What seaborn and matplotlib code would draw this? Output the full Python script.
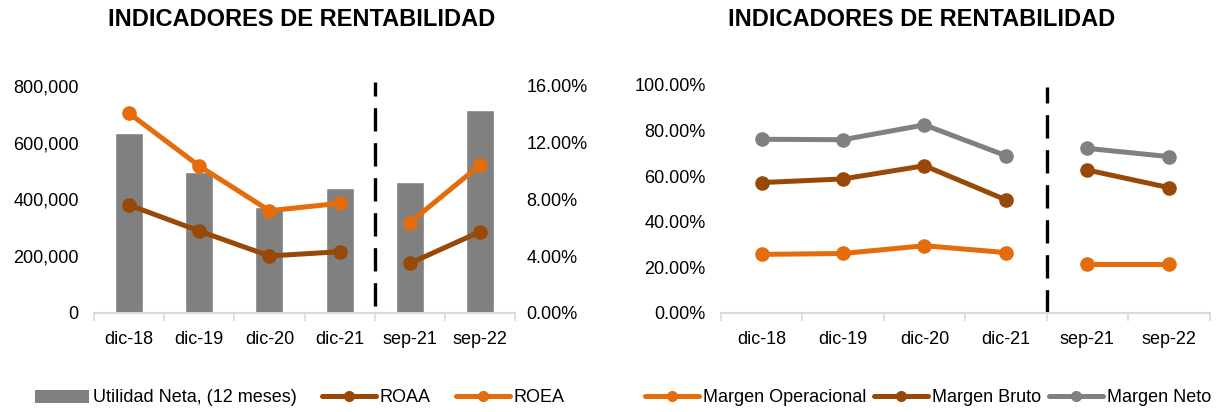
# indicadores_rentabilidad.py
# Dos paneles: utilidad neta + ROAA/ROEA, y margenes

import numpy as np
import pandas as pd
import matplotlib
matplotlib.use('Agg')
import matplotlib.pyplot as plt
from matplotlib.lines import Line2D
from matplotlib.patches import Patch
from matplotlib.ticker import FuncFormatter, FixedLocator
import seaborn as sns

# ── Datos ──────────────────────────────────────────────
periodos = ['dic-18', 'dic-19', 'dic-20', 'dic-21', 'sep-21', 'sep-22']
tramo = ['anual', 'anual', 'anual', 'anual', 'sep', 'sep']

utilidad_neta = [633000, 498000, 375000, 439000, 463000, 715000]
roaa = [0.0761, 0.0578, 0.0402, 0.0432, 0.0350, 0.0573]
roea = [0.1408, 0.1036, 0.0721, 0.0773, 0.0637, 0.1043]

margen_operacional = [0.257, 0.261, 0.295, 0.265, 0.215, 0.215]
margen_bruto = [0.572, 0.588, 0.646, 0.496, 0.627, 0.550]
margen_neto = [0.762, 0.760, 0.825, 0.690, 0.722, 0.686]

NARANJA = '#E46C0A'
CAFE = '#984807'
GRIS = '#808080'
EJE = '#D9D9D9'

sns.set_theme(style='white')
plt.rcParams['font.family'] = ['Liberation Sans', 'DejaVu Sans']
plt.rcParams['text.color'] = 'black'
plt.rcParams['xtick.color'] = 'black'
plt.rcParams['ytick.color'] = 'black'

pos = np.arange(len(periodos))
df_izq = pd.DataFrame({
    'pos': pos,
    'tramo': tramo,
    'Utilidad': utilidad_neta,
    'ROAA': roaa,
    'ROEA': roea,
})
df_der = pd.DataFrame({
    'pos': pos,
    'tramo': tramo,
    'Margen Operacional': margen_operacional,
    'Margen Bruto': margen_bruto,
    'Margen Neto': margen_neto,
}).melt(id_vars=['pos', 'tramo'], var_name='serie', value_name='valor')

colores_margen = {
    'Margen Operacional': NARANJA,
    'Margen Bruto': CAFE,
    'Margen Neto': GRIS,
}

linea = dict(linewidth=3.6, marker='o', markersize=10.5, markeredgewidth=0)


def formato_x(ax):
    ax.set_xlim(-0.5, len(periodos) - 0.5)
    ax.xaxis.set_major_locator(FixedLocator(pos))
    ax.set_xticklabels(periodos)
    ax.xaxis.set_minor_locator(FixedLocator(np.arange(-0.5, len(periodos), 1)))
    ax.tick_params(axis='x', which='major', bottom=False, length=0, pad=13,
                   labelsize=13, labelcolor='black')
    ax.tick_params(axis='x', which='minor', bottom=True, length=6,
                   width=1.2, color=EJE)
    for lado in ['top', 'left', 'right']:
        ax.spines[lado].set_visible(False)
    ax.spines['bottom'].set_color(EJE)
    ax.spines['bottom'].set_linewidth(1.5)
    ax.set_xlabel('')
    ax.set_ylabel('')


fig = plt.figure(figsize=(12.28, 4.12), dpi=100)
ax1 = fig.add_axes([0.0765, 0.2403, 0.343, 0.551])
ax2 = fig.add_axes([0.587, 0.2403, 0.398, 0.5534])

# ── Panel izquierdo ────────────────────────────────────
sns.barplot(data=df_izq, x='pos', y='Utilidad', color=GRIS, width=0.4,
            saturation=1, ax=ax1)
ax1.set_ylim(0, 800000)
ax1.yaxis.set_major_locator(FixedLocator(np.arange(0, 800001, 200000)))
ax1.yaxis.set_major_formatter(FuncFormatter(lambda v, p: f'{v:,.0f}'))
ax1.tick_params(axis='y', left=False, length=0, pad=11, labelsize=13)
formato_x(ax1)

ax1b = ax1.twinx()
sns.lineplot(data=df_izq, x='pos', y='ROAA', units='tramo', estimator=None,
             color=CAFE, ax=ax1b, **linea)
sns.lineplot(data=df_izq, x='pos', y='ROEA', units='tramo', estimator=None,
             color=NARANJA, ax=ax1b, **linea)
ax1b.set_ylim(0, 0.16)
ax1b.yaxis.set_major_locator(FixedLocator(np.arange(0, 0.161, 0.04)))
ax1b.yaxis.set_major_formatter(FuncFormatter(lambda v, p: f'{v:.2%}'))
ax1b.tick_params(axis='y', right=True, length=0, pad=8, labelsize=13)
for lado in ['top', 'left', 'right', 'bottom']:
    ax1b.spines[lado].set_visible(False)
ax1b.set_ylabel('')
ax1b.set_xlim(-0.5, len(periodos) - 0.5)

ax1b.axvline(3.5, ymin=0.03, ymax=1.018, color='black', linewidth=2.4,
             dashes=(7, 3.5), clip_on=False)

# ── Panel derecho ──────────────────────────────────────
sns.lineplot(data=df_der, x='pos', y='valor', hue='serie', units='tramo',
             estimator=None, palette=colores_margen, legend=False, ax=ax2,
             **linea)
ax2.set_ylim(0, 1.0)
ax2.yaxis.set_major_locator(FixedLocator(np.arange(0, 1.01, 0.2)))
ax2.yaxis.set_major_formatter(FuncFormatter(lambda v, p: f'{v:.2%}'))
ax2.tick_params(axis='y', left=False, length=0, pad=11, labelsize=13)
formato_x(ax2)
ax2.axvline(3.5, ymin=0.0, ymax=0.99, color='black', linewidth=2.4,
            dashes=(7, 3.5), clip_on=False)

# ── Titulos ────────────────────────────────────────────
fig.text(302 / 1228, 1 - 20 / 412, 'INDICADORES DE RENTABILIDAD',
         ha='center', va='center', fontsize=17, fontweight='bold')
fig.text(922 / 1228, 1 - 20 / 412, 'INDICADORES DE RENTABILIDAD',
         ha='center', va='center', fontsize=17, fontweight='bold')

# ── Leyendas ───────────────────────────────────────────
h_izq = [
    Patch(facecolor=GRIS, edgecolor='none'),
    Line2D([], [], color=CAFE, linewidth=3.6, marker='o', markersize=8,
           markeredgewidth=0),
    Line2D([], [], color=NARANJA, linewidth=3.6, marker='o', markersize=8,
           markeredgewidth=0),
]
fig.legend(h_izq, ['Utilidad Neta, (12 meses)', 'ROAA', 'ROEA'],
           loc='center', bbox_to_anchor=(300 / 1228, 1 - 398 / 412),
           ncol=3, frameon=False, fontsize=13, handlelength=3,
           handletextpad=0.2, columnspacing=1.4)

h_der = [Line2D([], [], color=colores_margen[s], linewidth=3.6, marker='o',
                markersize=8, markeredgewidth=0) for s in colores_margen]
fig.legend(h_der, list(colores_margen.keys()),
           loc='center', bbox_to_anchor=(928 / 1228, 1 - 398 / 412),
           ncol=3, frameon=False, fontsize=13, handlelength=3,
           handletextpad=0.2, columnspacing=0.45)

plt.savefig('out.png', dpi=100)
plt.close()
